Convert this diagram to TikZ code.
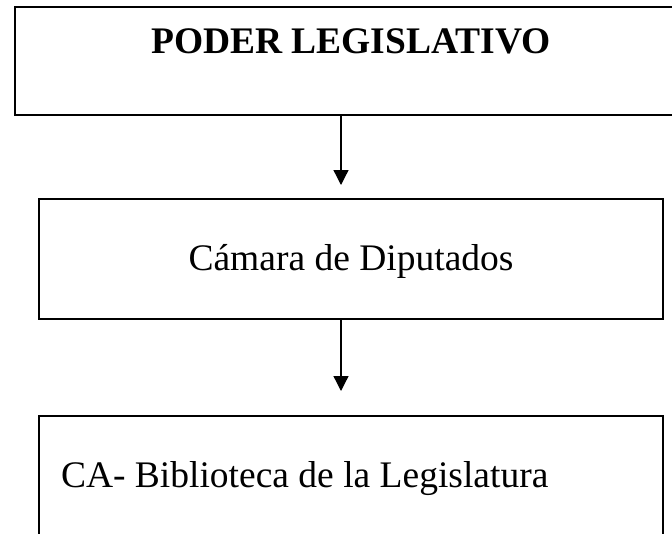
\documentclass[tikz,border=0pt]{standalone}
\usepackage{fontspec}
\setmainfont{Liberation Serif}
\usetikzlibrary{arrows.meta}

\begin{document}
\begin{tikzpicture}[
  x=1pt, y=-1pt,
  blk/.style={
    draw, rectangle, line width=1.2pt,
    inner sep=0pt, font=\fontsize{37.5}{45}\selectfont
  },
  lnk/.style={
    -{Triangle[length=15pt, width=15pt]}, line width=1.3pt
  }
]
  \useasboundingbox (0,0) rectangle (672,533);
  \node[blk, minimum width=672pt, minimum height=108pt,
    text height=24pt, text depth=40pt,
    font=\fontsize{37.5}{45}\selectfont\bfseries] (leg) at (351,61) {PODER LEGISLATIVO};
  \node[blk, minimum width=624pt, minimum height=120pt,
    text height=30pt, text depth=8pt] (cam) at (351,259) {Cámara de Diputados};
  \node[blk, minimum width=624pt, minimum height=120pt,
    text height=30pt, text depth=8pt] (bib) at (351,476) {\makebox[580pt][l]{CA- Biblioteca de la Legislatura}};
  \coordinate (t1) at (341,185);
  \coordinate (t2) at (341,391);
  \draw[lnk] (t1 |- leg.south) -- (t1);
  \draw[lnk] (t2 |- cam.south) -- (t2);
\end{tikzpicture}
\end{document}
